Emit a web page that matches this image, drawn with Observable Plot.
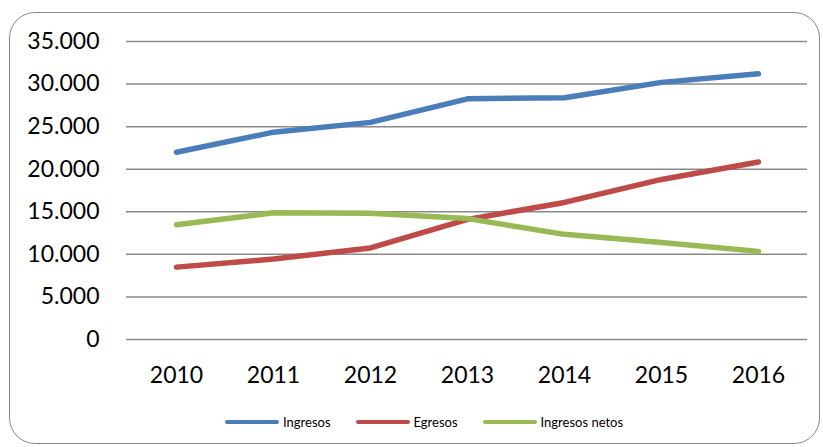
<!DOCTYPE html>
<html>
<head>
<meta charset="utf-8">
<script src="https://cdn.jsdelivr.net/npm/d3@7"></script>
<script src="https://cdn.jsdelivr.net/npm/@observablehq/plot@0.6"></script>
<style>
  html, body { margin: 0; padding: 0; background: #fff; }
  #wrap { position: relative; width: 823px; height: 447px; font-family: Lato, "Open Sans", sans-serif; overflow: hidden; }
  #frame { position: absolute; left: 9px; top: 12px; width: 811px; height: 432px; border: 1.5px solid #8a8a8a; border-radius: 26px; box-sizing: border-box; }
  #chart { position: absolute; left: 0; top: 0; }
  #legend { position: absolute; left: 225px; top: 414px; display: flex; gap: 25px; align-items: center; font-size: 13px; color: #000; }
  .item { display: flex; align-items: center; gap: 4px; }
  .sw { width: 54px; height: 4px; border-radius: 2px; }
</style>
</head>
<body>
<div id="wrap">
  <div id="frame"></div>
  <div id="chart"></div>
  <div id="legend"></div>
</div>
<script>
const years = ["2010", "2011", "2012", "2013", "2014", "2015", "2016"];
const ingresos = [22000, 24350, 25500, 28270, 28400, 30200, 31200];
const egresos = [8500, 9450, 10750, 14100, 16100, 18800, 20850];
const netos = [13470, 14880, 14820, 14200, 12350, 11400, 10350];
const seriesNames = ["Ingresos", "Egresos", "Ingresos netos"];
const seriesColors = ["#4A7EBB", "#BE4B48", "#98B954"];
const yTicks = [0, 5000, 10000, 15000, 20000, 25000, 30000, 35000];

const allValues = [ingresos, egresos, netos];
const data = [];
allValues.forEach((vals, si) => {
  vals.forEach((v, i) => data.push({ year: years[i], value: v, serie: seriesNames[si] }));
});

const fmt = v => v === 0 ? "0" : d3.format(",")(v).replace(/,/g, ".");

const plot = Plot.plot({
  width: 823,
  height: 395,
  marginLeft: 126,
  marginRight: 16,
  marginTop: 41,
  marginBottom: 56,
  style: { fontFamily: "Lato, 'Open Sans', sans-serif", background: "transparent", overflow: "visible" },
  x: { type: "point", domain: years, padding: 0.5 },
  y: { domain: [0, 35000] },
  color: { domain: seriesNames, range: seriesColors },
  marks: [
    Plot.ruleY(yTicks, { stroke: "#8a8a8a", strokeWidth: 1.5, strokeOpacity: 1 }),
    Plot.axisY({ ticks: yTicks, tickSize: 0, tickPadding: 27, tickFormat: fmt, fontSize: 23, label: null, color: "#000" }),
    Plot.axisX({ tickSize: 0, tickPadding: 27, fontSize: 23, label: null, color: "#000" }),
    Plot.line(data, { x: "year", y: "value", z: "serie", stroke: "serie", strokeWidth: 5.5, strokeLinecap: "round", strokeLinejoin: "round" })
  ]
});
document.getElementById("chart").appendChild(plot);

const legend = document.getElementById("legend");
seriesNames.forEach((name, i) => {
  const item = document.createElement("div");
  item.className = "item";
  const sw = document.createElement("div");
  sw.className = "sw";
  sw.style.background = seriesColors[i];
  const lab = document.createElement("span");
  lab.textContent = name;
  item.appendChild(sw);
  item.appendChild(lab);
  legend.appendChild(item);
});
</script>
</body>
</html>
